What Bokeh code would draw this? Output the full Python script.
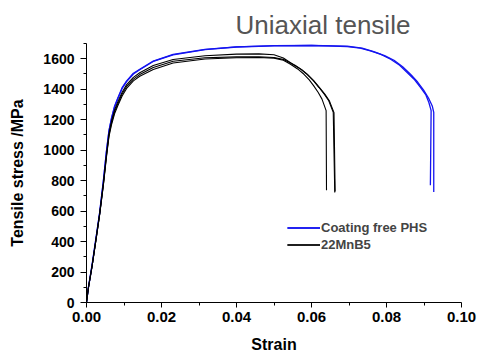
from bokeh.plotting import figure
from bokeh.models import Range1d, Legend, LegendItem, FixedTicker, Title
from bokeh.embed import file_html
from bokeh.resources import INLINE

# ---- data (strain, stress MPa) ----
blue1_strain = [0, 0.0005, 0.0015, 0.0025, 0.0035, 0.0045, 0.0053, 0.006, 0.0067, 0.0075, 0.0084,
                0.0095, 0.0107, 0.0125, 0.0142, 0.0178, 0.0231, 0.0316, 0.040, 0.050, 0.060,
                0.0695, 0.0730, 0.0757, 0.0785, 0.0811, 0.0835, 0.0855, 0.0875, 0.0891, 0.0905,
                0.0913, 0.0919, 0.0917]
blue1_stress = [0, 100, 250, 420, 590, 800, 990, 1130, 1215, 1290, 1346,
                1410, 1455, 1505, 1531, 1585, 1629, 1662, 1678, 1686, 1688,
                1680, 1670, 1651, 1628, 1597, 1557, 1510, 1462, 1411, 1362,
                1313, 1259, 769]

blue2_strain = [0, 0.0005, 0.0015, 0.0025, 0.0035, 0.0045, 0.0053, 0.006, 0.0067, 0.0075, 0.0084,
                0.0095, 0.0107, 0.0125, 0.0142, 0.0178, 0.0231, 0.0316, 0.040, 0.050, 0.060,
                0.0695, 0.0735, 0.0766, 0.0795, 0.0820, 0.0843, 0.0864, 0.0883, 0.0899, 0.0912,
                0.0922, 0.0926, 0.0926]
blue2_stress = [0, 95, 245, 415, 585, 795, 985, 1125, 1210, 1285, 1340,
                1405, 1450, 1500, 1528, 1582, 1625, 1660, 1677, 1685, 1687,
                1683, 1670, 1646, 1620, 1590, 1547, 1498, 1447, 1394, 1342,
                1290, 1248, 725]

blackA_strain = [0, 0.0005, 0.0015, 0.0025, 0.0035, 0.0045, 0.0053, 0.006, 0.0067, 0.0075, 0.0084,
                 0.0095, 0.0107, 0.0125, 0.0142, 0.0178, 0.0231, 0.0316, 0.040, 0.046, 0.050,
                 0.0525, 0.0553, 0.0572, 0.0588, 0.0605, 0.0620, 0.0634, 0.0646, 0.0658, 0.0662]
blackA_stress = [0, 95, 240, 410, 580, 780, 965, 1110, 1195, 1265, 1320,
                 1380, 1430, 1478, 1508, 1555, 1595, 1620, 1630, 1632, 1626,
                 1605, 1559, 1530, 1498, 1456, 1411, 1368, 1324, 1248, 722]

blackB_strain = [0, 0.0005, 0.0015, 0.0025, 0.0035, 0.0045, 0.0053, 0.006, 0.0067, 0.0075, 0.0084,
                 0.0095, 0.0107, 0.0125, 0.0142, 0.0178, 0.0231, 0.0316, 0.040, 0.046, 0.050,
                 0.0525, 0.0544, 0.0563, 0.0580, 0.0594, 0.0606, 0.0618, 0.0628, 0.0639, 0.0640]
blackB_stress = [0, 95, 240, 405, 575, 770, 950, 1090, 1170, 1240, 1295,
                 1355, 1405, 1455, 1485, 1530, 1572, 1598, 1606, 1608, 1604,
                 1590, 1564, 1533, 1498, 1461, 1422, 1378, 1335, 1259, 736]

blackC_strain = [0, 0.0005, 0.0015, 0.0025, 0.0035, 0.0045, 0.0053, 0.006, 0.0067, 0.0075, 0.0084,
                 0.0095, 0.0107, 0.0125, 0.0142, 0.0178, 0.0231, 0.0316, 0.040, 0.046, 0.050,
                 0.0527, 0.0556, 0.0574, 0.0590, 0.0607, 0.0622, 0.0636, 0.0648, 0.0660, 0.0663]
blackC_stress = [0, 95, 240, 408, 578, 775, 958, 1100, 1182, 1252, 1308,
                 1368, 1418, 1466, 1496, 1542, 1583, 1606, 1612, 1613, 1608,
                 1594, 1557, 1528, 1496, 1453, 1409, 1366, 1322, 1246, 728]

x_ticks = [0.0, 0.02, 0.04, 0.06, 0.08, 0.10]
x_tick_labels = ["0.00", "0.02", "0.04", "0.06", "0.08", "0.10"]
y_ticks = [0, 200, 400, 600, 800, 1000, 1200, 1400, 1600]

BLUE = "#1414f0"
BLACK = "#000000"

p = figure(width=480, height=355, output_backend="svg", toolbar_location=None,
           x_range=Range1d(0, 0.10), y_range=Range1d(0, 1700),
           min_border_left=86, min_border_right=19, min_border_top=43, min_border_bottom=52)

p.background_fill_color = "white"
p.border_fill_color = "white"
p.outline_line_color = None
p.xgrid.visible = False
p.ygrid.visible = False

rb1 = p.line(blue1_strain, blue1_stress, line_color=BLUE, line_width=1.3)
rb2 = p.line(blue2_strain, blue2_stress, line_color=BLUE, line_width=1.3)
rk1 = p.line(blackA_strain, blackA_stress, line_color=BLACK, line_width=1.1)
rk2 = p.line(blackB_strain, blackB_stress, line_color=BLACK, line_width=1.1)
rk3 = p.line(blackC_strain, blackC_stress, line_color=BLACK, line_width=1.1)

# axes
xa = p.xaxis[0]
ya = p.yaxis[0]
xa.ticker = FixedTicker(ticks=x_ticks, minor_ticks=[0.01, 0.03, 0.05, 0.07, 0.09])
xa.major_label_overrides = {t: l for t, l in zip(x_ticks, x_tick_labels)}
ya.ticker = FixedTicker(ticks=y_ticks, minor_ticks=[100, 300, 500, 700, 900, 1100, 1300, 1500, 1700])

for ax in (xa, ya):
    ax.axis_line_color = "black"
    ax.axis_line_width = 1
    ax.major_tick_line_color = "black"
    ax.minor_tick_line_color = "black"
    ax.major_tick_in = 0
    ax.minor_tick_in = 0
    ax.major_label_text_font = "Liberation Sans"
    ax.major_label_text_font_style = "bold"
    ax.major_label_text_color = "black"
    ax.axis_label_text_font = "Liberation Sans"
    ax.axis_label_text_font_style = "bold"
    ax.axis_label_text_color = "black"
    ax.axis_label_text_font_size = "16px"

xa.major_tick_out = 5
xa.minor_tick_out = 3
xa.major_label_text_font_size = "15px"
xa.major_label_standoff = 4
xa.axis_label = "Strain"
xa.axis_label_standoff = 11

ya.major_tick_out = 6
ya.minor_tick_out = 3
ya.major_label_text_font_size = "14px"
ya.major_label_standoff = 6
ya.axis_label = "Tensile stress /MPa"
ya.axis_label_standoff = 14

legend = Legend(items=[LegendItem(label="Coating free PHS", renderers=[rb1, rb2]),
                       LegendItem(label="22MnB5", renderers=[rk1, rk2, rk3])],
                location=(201, 49))
legend.label_text_font = "Liberation Sans"
legend.label_text_font_style = "bold"
legend.label_text_font_size = "13px"
legend.label_standoff = 1
legend.glyph_width = 33
legend.glyph_height = 17
legend.label_height = 17
legend.spacing = 0
legend.padding = 0
legend.margin = 0
legend.background_fill_alpha = 0
legend.border_line_alpha = 0
p.add_layout(legend, "center")

title = Title(text="Uniaxial tensile", align="left", offset=149, standoff=4,
              vertical_align="top", text_font="Liberation Sans",
              text_font_size="26px", text_font_style="normal", text_color="#555555")
p.add_layout(title, "above")

open("out.html", "w").write(file_html(p, INLINE))
